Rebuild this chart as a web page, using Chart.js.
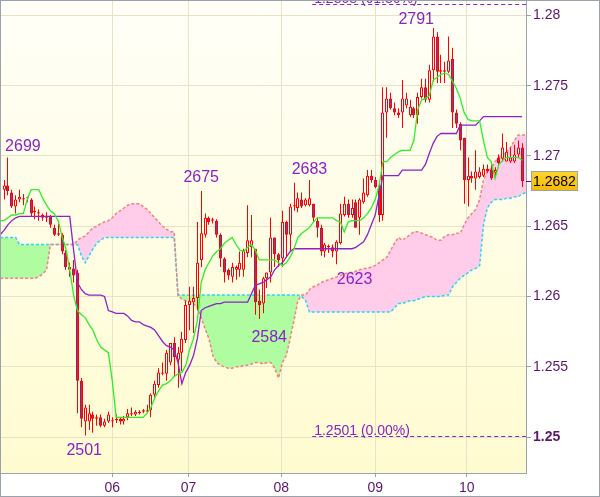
<!DOCTYPE html>
<html>
<head>
<meta charset="utf-8">
<style>
  html, body { margin: 0; padding: 0; background: #fff; }
  #wrap { width: 600px; height: 497px; }
</style>
<script src="https://cdn.jsdelivr.net/npm/chart.js@4.4.1/dist/chart.umd.min.js"></script>
</head>
<body>
<div id="wrap"><canvas id="chart" width="600" height="497"></canvas></div>
<script>
// Hourly candles, index 0 = first bar on screen
const opens = [
  1.2676, 1.2679, 1.2674, 1.2664, 1.2669, 1.2670, 1.2670, 1.2669, 1.2661, 1.2660,
  1.2656, 1.2657, 1.2657, 1.2649, 1.2644, 1.2644, 1.2631, 1.2621, 1.2620, 1.2617,
  1.2540, 1.2511, 1.2511, 1.2516, 1.2514, 1.2514, 1.2508, 1.2511, 1.2512, 1.2513,
  1.2513, 1.2511, 1.2514, 1.2516, 1.2516, 1.2517, 1.2518, 1.2518, 1.2519, 1.2530,
  1.2537, 1.2545, 1.2545, 1.2553, 1.2567, 1.2555, 1.2560, 1.2569, 1.2594, 1.2596,
  1.2599, 1.2626, 1.2644, 1.2656, 1.2655, 1.2654, 1.2644, 1.2627, 1.2619, 1.2614,
  1.2619, 1.2619, 1.2619, 1.2631, 1.2635, 1.2634, 1.2597, 1.2595, 1.2613, 1.2617,
  1.2642, 1.2630, 1.2627, 1.2653, 1.2644, 1.2664, 1.2663, 1.2669, 1.2665, 1.2665,
  1.2666, 1.2654, 1.2649, 1.2632, 1.2636, 1.2635, 1.2632, 1.2638, 1.2658, 1.2666,
  1.2658, 1.2667, 1.2656, 1.2667, 1.2672, 1.2686, 1.2683, 1.2679, 1.2658, 1.2731,
  1.2741, 1.2734, 1.2731, 1.2731, 1.2736, 1.2729, 1.2734, 1.2729, 1.2742, 1.2749,
  1.2740, 1.2761, 1.2785, 1.2760, 1.2761, 1.2760, 1.2769, 1.2731, 1.2723, 1.2713,
  1.2683, 1.2686, 1.2684, 1.2685, 1.2686, 1.2691, 1.2690, 1.2688, 1.2699, 1.2698,
  1.2696, 1.2696, 1.2696, 1.2701, 1.2706
];
const highs = [
  1.2683, 1.2699, 1.2676, 1.2672, 1.2676, 1.2673, 1.2671, 1.2670, 1.2664, 1.2662,
  1.2659, 1.2660, 1.2658, 1.2651, 1.2652, 1.2645, 1.2633, 1.2624, 1.2626, 1.2619,
  1.2542, 1.2523, 1.2523, 1.2518, 1.2516, 1.2516, 1.2513, 1.2518, 1.2514, 1.2516,
  1.2514, 1.2515, 1.2520, 1.2521, 1.2519, 1.2519, 1.2520, 1.2523, 1.2531, 1.2540,
  1.2549, 1.2553, 1.2562, 1.2567, 1.2571, 1.2564, 1.2575, 1.2597, 1.2607, 1.2607,
  1.2653, 1.2675, 1.2659, 1.2657, 1.2656, 1.2655, 1.2645, 1.2628, 1.2620, 1.2624,
  1.2622, 1.2632, 1.2634, 1.2665, 1.2658, 1.2634, 1.2605, 1.2614, 1.2617, 1.2656,
  1.2642, 1.2631, 1.2661, 1.2654, 1.2666, 1.2681, 1.2674, 1.2674, 1.2670, 1.2683,
  1.2666, 1.2656, 1.2651, 1.2638, 1.2637, 1.2637, 1.2640, 1.2666, 1.2671, 1.2669,
  1.2669, 1.2669, 1.2670, 1.2684, 1.2690, 1.2690, 1.2685, 1.2681, 1.2749, 1.2749,
  1.2745, 1.2738, 1.2734, 1.2754, 1.2745, 1.2740, 1.2735, 1.2745, 1.2755, 1.2755,
  1.2765, 1.2791, 1.2788, 1.2772, 1.2767, 1.2785, 1.2777, 1.2733, 1.2724, 1.2713,
  1.2699, 1.2689, 1.2704, 1.2692, 1.2694, 1.2694, 1.2694, 1.2692, 1.2701, 1.2716,
  1.2710, 1.2706, 1.2708, 1.2711, 1.2709
];
const lows = [
  1.2669, 1.2672, 1.2663, 1.2659, 1.2667, 1.2665, 1.2667, 1.2657, 1.2655, 1.2654,
  1.2654, 1.2653, 1.2649, 1.2643, 1.2643, 1.2630, 1.2619, 1.2614, 1.2610, 1.2517,
  1.2507, 1.2501, 1.2505, 1.2503, 1.2508, 1.2507, 1.2507, 1.2510, 1.2507, 1.2510,
  1.2509, 1.2509, 1.2512, 1.2515, 1.2515, 1.2516, 1.2517, 1.2517, 1.2514, 1.2528,
  1.2535, 1.2544, 1.2540, 1.2551, 1.2543, 1.2535, 1.2547, 1.2567, 1.2576, 1.2574,
  1.2590, 1.2621, 1.2642, 1.2651, 1.2652, 1.2642, 1.2621, 1.2610, 1.2612, 1.2610,
  1.2612, 1.2614, 1.2614, 1.2628, 1.2628, 1.2587, 1.2584, 1.2588, 1.2606, 1.2610,
  1.2621, 1.2621, 1.2621, 1.2628, 1.2632, 1.2661, 1.2660, 1.2663, 1.2664, 1.2664,
  1.2653, 1.2642, 1.2629, 1.2628, 1.2631, 1.2628, 1.2623, 1.2637, 1.2657, 1.2656,
  1.2656, 1.2649, 1.2644, 1.2666, 1.2671, 1.2681, 1.2677, 1.2653, 1.2654, 1.2713,
  1.2733, 1.2729, 1.2727, 1.2720, 1.2734, 1.2728, 1.2727, 1.2723, 1.2741, 1.2738,
  1.2738, 1.2753, 1.2752, 1.2752, 1.2752, 1.2759, 1.2720, 1.2720, 1.2704, 1.2666,
  1.2664, 1.2681, 1.2676, 1.2684, 1.2685, 1.2688, 1.2683, 1.2685, 1.2692, 1.2696,
  1.2696, 1.2695, 1.2695, 1.2699, 1.2678
];
const closes = [
  1.2679, 1.2675, 1.2664, 1.2669, 1.2671, 1.2669, 1.2670, 1.2659, 1.2660, 1.2659,
  1.2658, 1.2656, 1.2651, 1.2644, 1.2645, 1.2632, 1.2621, 1.2619, 1.2615, 1.2540,
  1.2513, 1.2521, 1.2517, 1.2513, 1.2513, 1.2508, 1.2511, 1.2516, 1.2511, 1.2512,
  1.2511, 1.2513, 1.2517, 1.2517, 1.2518, 1.2518, 1.2519, 1.2519, 1.2530, 1.2538,
  1.2546, 1.2546, 1.2560, 1.2567, 1.2557, 1.2560, 1.2570, 1.2594, 1.2597, 1.2599,
  1.2624, 1.2645, 1.2656, 1.2653, 1.2654, 1.2644, 1.2627, 1.2617, 1.2615, 1.2621,
  1.2621, 1.2624, 1.2633, 1.2640, 1.2640, 1.2596, 1.2594, 1.2613, 1.2617, 1.2642,
  1.2630, 1.2626, 1.2653, 1.2644, 1.2664, 1.2665, 1.2670, 1.2664, 1.2669, 1.2670,
  1.2656, 1.2649, 1.2632, 1.2637, 1.2635, 1.2632, 1.2639, 1.2659, 1.2666, 1.2658,
  1.2663, 1.2649, 1.2669, 1.2674, 1.2686, 1.2683, 1.2678, 1.2658, 1.2731, 1.2741,
  1.2734, 1.2731, 1.2729, 1.2741, 1.2741, 1.2735, 1.2729, 1.2742, 1.2749, 1.2740,
  1.2761, 1.2785, 1.2760, 1.2761, 1.2760, 1.2768, 1.2731, 1.2723, 1.2711, 1.2683,
  1.2686, 1.2684, 1.2689, 1.2689, 1.2691, 1.2689, 1.2684, 1.2690, 1.2695, 1.2706,
  1.2703, 1.2699, 1.2701, 1.2706, 1.2682
];

// Indicator lines start one bar before the first candle (index -1)
const tenkan = [
  1.2654,
  1.2654, 1.2656, 1.2658, 1.2658, 1.2659, 1.2659, 1.2669, 1.2676, 1.2676, 1.2676,
  1.2670, 1.2665, 1.2661, 1.2659, 1.2654, 1.2643, 1.2634, 1.2619, 1.2601, 1.2590,
  1.2587, 1.2585, 1.2580, 1.2576, 1.2569, 1.2564, 1.2562, 1.2560, 1.2540, 1.2514,
  1.2514, 1.2514, 1.2514, 1.2514, 1.2514, 1.2514, 1.2514, 1.2517, 1.2521, 1.2528,
  1.2533, 1.2537, 1.2538, 1.2540, 1.2543, 1.2545, 1.2546, 1.2551, 1.2562, 1.2570,
  1.2583, 1.2610, 1.2619, 1.2624, 1.2629, 1.2632, 1.2634, 1.2638, 1.2640, 1.2642,
  1.2637, 1.2633, 1.2632, 1.2635, 1.2637, 1.2633, 1.2626, 1.2626, 1.2626, 1.2626,
  1.2626, 1.2624, 1.2622, 1.2624, 1.2628, 1.2634, 1.2642, 1.2645, 1.2647, 1.2649,
  1.2653, 1.2656, 1.2656, 1.2656, 1.2656, 1.2656, 1.2654, 1.2653, 1.2646, 1.2653,
  1.2654, 1.2654, 1.2654, 1.2656, 1.2659, 1.2663, 1.2669, 1.2679, 1.2696, 1.2696,
  1.2699, 1.2701, 1.2703, 1.2704, 1.2704, 1.2704, 1.2711, 1.2733, 1.2740, 1.2741,
  1.2743, 1.2754, 1.2756, 1.2758, 1.2759, 1.2758, 1.2753, 1.2748, 1.2741, 1.2731,
  1.2726, 1.2725, 1.2725, 1.2725, 1.2711, 1.2699, 1.2696, 1.2684, 1.2694, 1.2697,
  1.2699, 1.2699, 1.2699, 1.2699, 1.2697
];
const kijun = [
  1.2644,
  1.2647, 1.2651, 1.2654, 1.2656, 1.2657, 1.2657, 1.2657, 1.2657, 1.2657, 1.2657,
  1.2657, 1.2657, 1.2657, 1.2657, 1.2657, 1.2657, 1.2657, 1.2657, 1.2633, 1.2610,
  1.2605, 1.2602, 1.2601, 1.2601, 1.2601, 1.2601, 1.2600, 1.2590, 1.2589, 1.2588,
  1.2588, 1.2588, 1.2586, 1.2583, 1.2582, 1.2582, 1.2580, 1.2579, 1.2578, 1.2576,
  1.2572, 1.2568, 1.2565, 1.2564, 1.2562, 1.2553, 1.2538, 1.2546, 1.2551, 1.2558,
  1.2570, 1.2590, 1.2592, 1.2593, 1.2594, 1.2595, 1.2595, 1.2596, 1.2596, 1.2596,
  1.2596, 1.2596, 1.2596, 1.2596, 1.2602, 1.2608, 1.2609, 1.2610, 1.2612, 1.2614,
  1.2619, 1.2622, 1.2624, 1.2628, 1.2632, 1.2634, 1.2634, 1.2634, 1.2634, 1.2634,
  1.2634, 1.2634, 1.2634, 1.2634, 1.2634, 1.2634, 1.2634, 1.2634, 1.2634, 1.2634,
  1.2634, 1.2635, 1.2637, 1.2639, 1.2644, 1.2651, 1.2658, 1.2672, 1.2686, 1.2686,
  1.2686, 1.2686, 1.2686, 1.2690, 1.2690, 1.2690, 1.2690, 1.2690, 1.2690, 1.2694,
  1.2702, 1.2709, 1.2714, 1.2716, 1.2716, 1.2716, 1.2716, 1.2716, 1.2722, 1.2722,
  1.2722, 1.2722, 1.2722, 1.2725, 1.2728, 1.2728, 1.2728, 1.2728, 1.2728, 1.2728,
  1.2728, 1.2728, 1.2728, 1.2728, 1.2728
];
// Cloud spans run from index -1 to one bar past the last candle
const spanA = [
  1.2613,
  1.2613, 1.2613, 1.2613, 1.2613, 1.2613, 1.2613, 1.2613, 1.2613, 1.2613, 1.2614,
  1.2616, 1.2619, 1.2637, 1.2637, 1.2637, 1.2637, 1.2637, 1.2637, 1.2637, 1.2640,
  1.2642, 1.2643, 1.2646, 1.2649, 1.2650, 1.2652, 1.2653, 1.2654, 1.2656, 1.2659,
  1.2661, 1.2663, 1.2665, 1.2666, 1.2666, 1.2666, 1.2664, 1.2662, 1.2659, 1.2656,
  1.2653, 1.2650, 1.2648, 1.2646, 1.2646, 1.2601, 1.2598, 1.2597, 1.2596, 1.2595,
  1.2592, 1.2585, 1.2577, 1.2570, 1.2558, 1.2553, 1.2551, 1.2550, 1.2549, 1.2549,
  1.2550, 1.2550, 1.2551, 1.2551, 1.2552, 1.2553, 1.2553, 1.2552, 1.2553, 1.2553,
  1.2549, 1.2542, 1.2553, 1.2558, 1.2570, 1.2583, 1.2597, 1.2601, 1.2601, 1.2605,
  1.2607, 1.2608, 1.2610, 1.2611, 1.2612, 1.2613, 1.2614, 1.2615, 1.2616, 1.2617,
  1.2617, 1.2618, 1.2619, 1.2620, 1.2620, 1.2621, 1.2622, 1.2624, 1.2626, 1.2628,
  1.2633, 1.2638, 1.2642, 1.2640, 1.2642, 1.2644, 1.2646, 1.2646, 1.2645, 1.2644,
  1.2643, 1.2642, 1.2640, 1.2640, 1.2643, 1.2644, 1.2644, 1.2645, 1.2645, 1.2651,
  1.2656, 1.2659, 1.2662, 1.2669, 1.2683, 1.2689, 1.2691, 1.2696, 1.2699, 1.2701,
  1.2703, 1.2706, 1.2711, 1.2715, 1.2715, 1.2715
];
const spanB = [
  1.2642,
  1.2642, 1.2642, 1.2642, 1.2642, 1.2637, 1.2637, 1.2637, 1.2637, 1.2637, 1.2637,
  1.2637, 1.2637, 1.2637, 1.2637, 1.2637, 1.2637, 1.2637, 1.2637, 1.2637, 1.2637,
  1.2629, 1.2624, 1.2629, 1.2634, 1.2638, 1.2640, 1.2642, 1.2642, 1.2642, 1.2642,
  1.2642, 1.2642, 1.2642, 1.2642, 1.2642, 1.2642, 1.2642, 1.2642, 1.2642, 1.2642,
  1.2642, 1.2642, 1.2642, 1.2642, 1.2642, 1.2601, 1.2601, 1.2601, 1.2601, 1.2601,
  1.2601, 1.2601, 1.2601, 1.2601, 1.2601, 1.2601, 1.2601, 1.2601, 1.2601, 1.2601,
  1.2601, 1.2601, 1.2601, 1.2601, 1.2601, 1.2601, 1.2601, 1.2601, 1.2601, 1.2601,
  1.2601, 1.2601, 1.2601, 1.2601, 1.2601, 1.2601, 1.2601, 1.2600, 1.2597, 1.2589,
  1.2589, 1.2589, 1.2589, 1.2589, 1.2589, 1.2589, 1.2589, 1.2589, 1.2589, 1.2589,
  1.2589, 1.2589, 1.2589, 1.2589, 1.2589, 1.2589, 1.2589, 1.2589, 1.2589, 1.2589,
  1.2589, 1.2592, 1.2595, 1.2595, 1.2596, 1.2597, 1.2597, 1.2598, 1.2599, 1.2600,
  1.2600, 1.2600, 1.2600, 1.2600, 1.2601, 1.2601, 1.2607, 1.2610, 1.2613, 1.2615,
  1.2617, 1.2619, 1.2620, 1.2622, 1.2651, 1.2663, 1.2667, 1.2669, 1.2669, 1.2669,
  1.2670, 1.2670, 1.2671, 1.2671, 1.2673, 1.2674
];

// X axis: day ticks (bar index where each day starts)
const dayTicks = [28, 47.7, 71.7, 96, 119.7];
const dayLabels = ['06', '07', '08', '09', '10'];
const priceTicks = [1.25, 1.255, 1.26, 1.265, 1.27, 1.275, 1.28];

// Fibonacci levels drawn from bar 79.7 to the right edge
const fiboLevels = [1.2501, 1.2808];
const fiboNames = ['0.00%', '61.80%'];
const fiboStart = 79.7;

// High / low markers: bar index, which extreme, text nudge
const markers = [
  { i: 1, side: 'high', dx: 15, dy: 0 },
  { i: 21, side: 'low', dx: -1, dy: 0 },
  { i: 51, side: 'high', dx: 0, dy: -3 },
  { i: 66, side: 'low', dx: 10, dy: 4 },
  { i: 79, side: 'high', dx: 0, dy: 0 },
  { i: 86, side: 'low', dx: 18, dy: 0 },
  { i: 111, side: 'high', dx: -17, dy: 2 }
];

const FONT = '"Liberation Sans", Arial, sans-serif';
const AXIS_TEXT = '#5c1470';
const MARK_TEXT = '#8a22c8';
const FRAME = '#9aa3ab';
const GRID = '#e4e4c6';

Chart.defaults.font.family = FONT;

const lineData = (arr) => arr.map((v, k) => ({ x: k - 1, y: v }));

const wickData = highs.map((h, i) => ({ x: i, y: [lows[i], h] }));
const bodyData = opens.map((o, i) => ({ x: i, y: [o, closes[i]] }));
const bodyFill = opens.map((o, i) => closes[i] >= o ? '#ffffff' : '#6448a8');

const bgPlugin = {
  id: 'bg',
  beforeDraw(chart) {
    const { ctx, chartArea: a } = chart;
    ctx.save();
    ctx.fillStyle = '#ffffff';
    ctx.fillRect(0, 0, chart.width, chart.height);
    const g = ctx.createLinearGradient(0, a.top, 0, a.bottom);
    g.addColorStop(0, '#fffff8');
    g.addColorStop(1, '#fffbd0');
    ctx.fillStyle = g;
    ctx.fillRect(a.left, a.top, a.right - a.left, a.bottom - a.top);
    ctx.restore();
  },
  // snap candle bars to whole pixels so they stay crisp
  beforeDatasetsDraw(chart) {
    [2, 3].forEach(d => {
      chart.getDatasetMeta(d).data.forEach(el => {
        if (el._snapped === undefined) {
          el.x = Math.floor(el.x) + 0.5;
          el._snapped = true;
        }
      });
    });
  }
};

const overlayPlugin = {
  id: 'overlay',
  afterDatasetsDraw(chart) {
    const { ctx, chartArea: a, scales: { x, y } } = chart;
    ctx.save();
    ctx.beginPath();
    ctx.rect(a.left, a.top, a.right - a.left, a.bottom - a.top);
    ctx.clip();

    // fibo levels
    ctx.strokeStyle = MARK_TEXT;
    ctx.lineWidth = 1;
    ctx.setLineDash([4, 3]);
    ctx.font = '14px ' + FONT;
    ctx.fillStyle = MARK_TEXT;
    ctx.textAlign = 'left';
    ctx.textBaseline = 'alphabetic';
    const x0 = x.getPixelForValue(fiboStart);
    fiboLevels.forEach((lv, k) => {
      const py = Math.round(y.getPixelForValue(lv)) + 0.5;
      ctx.beginPath();
      ctx.moveTo(x0, py);
      ctx.lineTo(a.right, py);
      ctx.stroke();
      ctx.fillText(lv.toFixed(4) + ' (' + fiboNames[k] + ')', x0 + 2, py - 2);
    });
    ctx.setLineDash([]);

    // high / low markers
    ctx.font = '16px ' + FONT;
    ctx.textAlign = 'center';
    markers.forEach(m => {
      const v = m.side === 'high' ? highs[m.i] : lows[m.i];
      const txt = String(Math.round(v * 10000) % 10000);
      const px = x.getPixelForValue(m.i) + m.dx;
      const py = y.getPixelForValue(v);
      if (m.side === 'high') {
        ctx.textBaseline = 'alphabetic';
        ctx.fillText(txt, px, py - 6 + m.dy);
      } else {
        ctx.textBaseline = 'top';
        ctx.fillText(txt, px, py + 7 + m.dy);
      }
    });
    ctx.restore();
  },
  afterDraw(chart) {
    const { ctx, chartArea: a, scales: { y } } = chart;
    ctx.save();
    // last price box
    const last = closes[closes.length - 1];
    const py = Math.round(y.getPixelForValue(last));
    ctx.strokeStyle = AXIS_TEXT;
    ctx.beginPath();
    ctx.moveTo(a.right, py + 0.5);
    ctx.lineTo(a.right + 5, py + 0.5);
    ctx.stroke();
    const bx = a.right + 5, by = py - 10, bw = 47, bh = 20;
    const g = ctx.createLinearGradient(0, by, 0, by + bh);
    g.addColorStop(0, '#ffd633');
    g.addColorStop(1, '#f5b800');
    ctx.fillStyle = g;
    ctx.fillRect(bx, by, bw, bh);
    ctx.strokeStyle = FRAME;
    ctx.strokeRect(bx + 0.5, by + 0.5, bw - 1, bh - 1);
    ctx.fillStyle = '#000000';
    ctx.font = '14px ' + FONT;
    ctx.textAlign = 'left';
    ctx.textBaseline = 'middle';
    ctx.fillText(last.toFixed(4), bx + 2, py + 1);

    // outer frame
    ctx.strokeStyle = FRAME;
    ctx.lineWidth = 1;
    ctx.strokeRect(0.5, 0.5, chart.width - 1, chart.height - 1);
    ctx.restore();
  }
};

new Chart(document.getElementById('chart'), {
  type: 'bar',
  data: {
    datasets: [
      {
        type: 'line', label: 'Span B', data: lineData(spanB),
        borderColor: '#2cd4f8', borderWidth: 1.5, borderDash: [3, 2],
        pointRadius: 0, fill: false, order: 6
      },
      {
        type: 'line', label: 'Span A', data: lineData(spanA),
        borderColor: '#f48080', borderWidth: 1.5, borderDash: [3, 2],
        pointRadius: 0, order: 5,
        fill: { target: 0, above: '#ffcdea', below: '#b0fca0' }
      },
      {
        label: 'Wick', data: wickData,
        backgroundColor: '#ff0000', borderWidth: 0,
        barThickness: 1, grouped: false, inflateAmount: 0, order: 4
      },
      {
        label: 'Body', data: bodyData,
        backgroundColor: bodyFill, borderColor: '#ff0000', borderWidth: 1,
        borderSkipped: false, barThickness: 3, minBarLength: 1,
        grouped: false, inflateAmount: 0, order: 3
      },
      {
        type: 'line', label: 'Kijun', data: lineData(kijun),
        borderColor: '#9020c8', borderWidth: 1.3, pointRadius: 0, fill: false, order: 2
      },
      {
        type: 'line', label: 'Tenkan', data: lineData(tenkan),
        borderColor: '#28f028', borderWidth: 1.3, pointRadius: 0, fill: false, order: 1
      }
    ]
  },
  options: {
    responsive: false,
    animation: false,
    devicePixelRatio: 1,
    layout: { padding: { left: 1, top: 1, right: 0, bottom: 0 } },
    plugins: {
      legend: { display: false },
      tooltip: { enabled: false },
      filler: { drawTime: 'beforeDatasetsDraw' }
    },
    scales: {
      x: {
        type: 'linear', min: -0.78, max: 135, offset: false,
        grid: { color: GRID, offset: false, tickLength: 4, tickColor: FRAME },
        border: { color: FRAME },
        afterBuildTicks: (s) => { s.ticks = dayTicks.map(v => ({ value: v })); },
        afterFit: (s) => { s.height = 24; s.paddingLeft = 0; s.paddingRight = 0; },
        ticks: {
          autoSkip: false, maxRotation: 0, padding: 3,
          color: AXIS_TEXT, font: { size: 14 },
          callback: (v, idx) => dayLabels[idx]
        }
      },
      y: {
        position: 'right', min: 1.24744, max: 1.28103,
        grid: { color: GRID, tickLength: 5, tickColor: FRAME },
        border: { color: FRAME },
        afterBuildTicks: (s) => { s.ticks = priceTicks.map(v => ({ value: v })); },
        afterFit: (s) => { s.width = 74; s.paddingTop = 0; s.paddingBottom = 0; },
        ticks: {
          padding: 2, color: AXIS_TEXT,
          font: (c) => ({ size: 14, weight: c.tick && c.tick.value === 1.25 ? 'bold' : 'normal' }),
          callback: (v) => String(v)
        }
      }
    }
  },
  plugins: [bgPlugin, overlayPlugin]
});
</script>
</body>
</html>
